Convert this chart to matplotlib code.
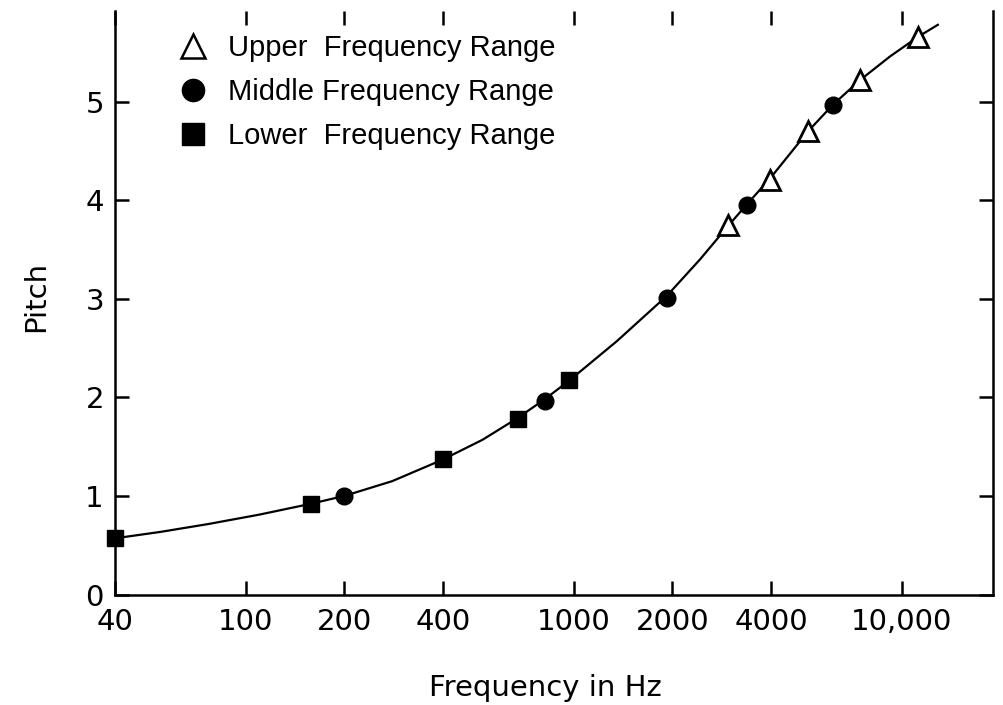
import numpy as np
import matplotlib.pyplot as plt
from matplotlib.lines import Line2D

# data (frequency in Hz, pitch)
upper_hz = [2960, 3970, 5190, 7480, 11250]
upper_pitch = [3.75, 4.21, 4.70, 5.22, 5.66]
middle_hz = [200, 816, 1925, 3380, 6180]
middle_pitch = [1.00, 1.96, 3.01, 3.95, 4.97]
lower_hz = [40, 158, 400, 675, 970]
lower_pitch = [0.57, 0.92, 1.37, 1.78, 2.18]

# fitted curve, sampled along the drawn line
curve_hz = [40, 55, 77, 110, 158, 200, 280, 400, 528, 675, 816, 970, 1355,
            1925, 2430, 2960, 3380, 3970, 5190, 6180, 7480, 9230, 11250, 12900]
curve_pitch = [0.57, 0.635, 0.715, 0.81, 0.92, 1.00, 1.15, 1.37, 1.57, 1.79, 1.98, 2.17, 2.57,
               3.03, 3.40, 3.74, 3.96, 4.22, 4.70, 4.97, 5.22, 5.46, 5.66, 5.78]

x_ticks = [40, 100, 200, 400, 1000, 2000, 4000, 10000]
x_labels = ['40', '100', '200', '400', '1000', '2000', '4000', '10,000']
y_ticks = [0, 1, 2, 3, 4, 5]

legend_labels = ['Upper  Frequency Range', 'Middle Frequency Range', 'Lower  Frequency Range']

fig = plt.figure(figsize=(10.04, 7.05), dpi=100)
ax = fig.add_axes([115/1004, (705-594.5)/705, (993-115)/1004, (594.5-11)/705])

ax.plot(curve_hz, curve_pitch, color='black', lw=1.6, zorder=2)
ax.plot(lower_hz, lower_pitch, ls='none', marker='s', ms=12, color='black', zorder=3, clip_on=False)
ax.plot(middle_hz, middle_pitch, ls='none', marker='o', ms=12, color='black', zorder=3)
ax.plot(upper_hz, upper_pitch, ls='none', marker='^', ms=14, mfc='white', mec='black', mew=2, zorder=3)

ax.set_xscale('log')
ax.set_xlim(40, 19000)
ax.set_ylim(0, 5.92)
ax.set_xticks(x_ticks)
ax.set_xticklabels(x_labels)
ax.minorticks_off()
ax.set_yticks(y_ticks)

for s in ['left', 'right', 'bottom']:
    ax.spines[s].set_linewidth(1.8)
ax.spines['top'].set_visible(False)

ax.tick_params(axis='both', which='major', direction='in', length=10, width=1.8,
               labelsize=21, top=True, right=True, pad=8)
ax.tick_params(axis='x', pad=10)

ax.set_xlabel('Frequency in Hz', fontsize=21, va='center')
ax.xaxis.set_label_coords(0.49, -0.160)
ax.set_ylabel('Pitch', fontsize=21)
ax.yaxis.set_label_coords(-0.074, 0.51)

handles = [
    Line2D([], [], ls='none', marker='^', ms=17, mfc='white', mec='black', mew=1.8),
    Line2D([], [], ls='none', marker='o', ms=16, color='black'),
    Line2D([], [], ls='none', marker='s', ms=16, color='black'),
]
ax.legend(handles, legend_labels, loc='upper left', bbox_to_anchor=(175/1004, 1 - 34/705),
          bbox_transform=fig.transFigure, frameon=False, borderpad=0, borderaxespad=0,
          handlelength=1.2, handletextpad=0.6, labelspacing=0.55,
          prop={'family': 'Liberation Sans', 'size': 21})

fig.savefig('out.png', dpi=100)
